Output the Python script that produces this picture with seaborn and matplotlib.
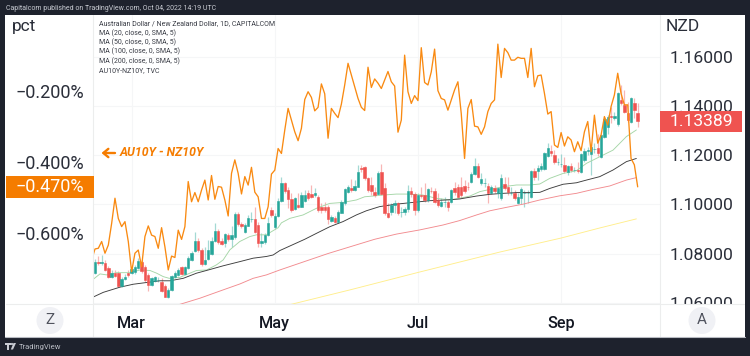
import numpy as np
import pandas as pd
import seaborn as sns
import matplotlib
matplotlib.use("Agg")
import matplotlib.pyplot as plt
from matplotlib.patches import Rectangle, Circle, Polygon
from matplotlib.lines import Line2D
from matplotlib.transforms import Affine2D

# ---------- data ----------
opens = [1.0722,1.0766,1.0763,1.0763,1.0740,1.0703,1.0722,1.0720,1.0668,1.0697,1.0722,1.0720,1.0724,1.0740,1.0767,1.0747,1.0713,1.0672,1.0690,1.0693,1.0686,1.0668,1.0621,1.0652,1.0706,1.0713,1.0744,1.0716,1.0740,1.0774,1.0812,1.0851,1.0815,1.0756,1.0778,1.0798,1.0849,1.0892,1.0853,1.0842,1.0876,1.0858,1.0866,1.0960,1.0919,1.0889,1.0914,1.0939,1.0939,1.0916,1.0842,1.0845,1.0876,
1.0977,1.0906,1.0953,1.1015,1.1086,1.1058,1.1022,1.0980,1.0997,1.0991,1.1015,1.1045,1.1042,1.1038,1.1031,1.0991,1.0991,1.0991,1.0934,1.0943,1.0930,1.0966,1.1004,1.1052,1.1065,1.1058,1.1072,1.1147,1.1151,1.1106,1.1079,1.1052,1.1042,1.1133,1.1065,1.0964,1.0970,1.0997,1.1004,1.0970,1.0970,1.0980,1.1056,1.1042,1.0977,1.1038,1.1038,1.1018,1.1056,1.1056,1.1018,1.0993,1.1011,1.1011,1.1011,1.1065,1.1072,
1.1072,1.1075,1.1072,1.1092,1.1124,1.1156,1.1088,1.1088,1.1076,1.1048,1.1065,1.1045,1.1025,1.1083,1.1069,1.1048,1.1045,1.1007,1.1025,1.1045,1.1045,1.1029,1.1137,1.1137,1.1143,1.1143,1.1198,1.1219,1.1201,1.1171,1.1164,1.1160,1.1133,1.1156,1.1140,1.1140,1.1133,1.1181,1.1219,1.1205,1.1225,1.1228,1.1194,1.1273,1.1316,1.1360,1.1350,1.1327,1.1425,1.1405,1.1373,1.1337,1.1414,1.1373]
closes = [1.0767,1.0763,1.0765,1.0733,1.0706,1.0722,1.0709,1.0668,1.0697,1.0706,1.0713,1.0736,1.0744,1.0770,1.0727,1.0693,1.0672,1.0699,1.0703,1.0693,1.0649,1.0625,1.0652,1.0709,1.0722,1.0733,1.0716,1.0744,1.0781,1.0804,1.0851,1.0815,1.0756,1.0774,1.0815,1.0851,1.0892,1.0845,1.0839,1.0878,1.0858,1.0876,1.0960,1.0919,1.0912,1.0916,1.0943,1.0939,1.0889,1.0842,1.0849,1.0876,1.0926,
1.0957,1.0953,1.1015,1.1086,1.1056,1.1022,1.0977,1.1025,1.0991,1.1038,1.1038,1.1027,1.1031,1.1045,1.0977,1.0977,1.0977,1.0939,1.0950,1.0930,1.0970,1.1011,1.1061,1.1069,1.1058,1.1075,1.1133,1.1143,1.1106,1.1058,1.1056,1.1038,1.1126,1.1042,1.0964,1.0947,1.0997,1.1007,1.0966,1.0970,1.0980,1.1056,1.1042,1.0977,1.1038,1.1035,1.1018,1.1061,1.1054,1.1011,1.0997,1.1011,1.1011,1.0991,1.1058,1.1052,1.1031,
1.1038,1.1056,1.1069,1.1124,1.1156,1.1113,1.1103,1.1088,1.1045,1.1069,1.1054,1.1065,1.1106,1.1065,1.1052,1.1048,1.1027,1.1031,1.1061,1.1045,1.1045,1.1137,1.1110,1.1147,1.1156,1.1208,1.1228,1.1208,1.1174,1.1171,1.1164,1.1136,1.1156,1.1140,1.1140,1.1137,1.1205,1.1219,1.1221,1.1232,1.1225,1.1208,1.1282,1.1346,1.1354,1.1357,1.1360,1.1455,1.1411,1.1377,1.1343,1.1432,1.1384,1.13389]
highs = [1.0777,1.0788,1.0794,1.0774,1.0750,1.0731,1.0731,1.0727,1.0706,1.0717,1.0733,1.0747,1.0754,1.0781,1.0774,1.0754,1.0720,1.0706,1.0709,1.0706,1.0699,1.0676,1.0659,1.0713,1.0727,1.0740,1.0750,1.0750,1.0788,1.0812,1.0889,1.0862,1.0821,1.0828,1.0855,1.0866,1.0923,1.0899,1.0862,1.0885,1.0882,1.0910,1.0971,1.0967,1.0930,1.0926,1.0957,1.0971,1.0991,1.0930,1.0882,1.0882,1.0950,
1.0991,1.0964,1.1025,1.1113,1.1092,1.1072,1.1045,1.1031,1.1045,1.1052,1.1058,1.1058,1.1079,1.1065,1.1038,1.1004,1.1011,1.0997,1.0957,1.0953,1.0977,1.1018,1.1065,1.1079,1.1102,1.1099,1.1160,1.1160,1.1156,1.1113,1.1113,1.1072,1.1137,1.1164,1.1086,1.1004,1.1007,1.1018,1.1011,1.0991,1.0991,1.1079,1.1072,1.1052,1.1045,1.1072,1.1088,1.1065,1.1072,1.1065,1.1045,1.1025,1.1031,1.1018,1.1061,1.1092,1.1083,
1.1113,1.1099,1.1092,1.1133,1.1187,1.1167,1.1126,1.1106,1.1086,1.1079,1.1079,1.1072,1.1124,1.1113,1.1113,1.1072,1.1058,1.1045,1.1072,1.1058,1.1058,1.1140,1.1147,1.1160,1.1167,1.1215,1.1251,1.1242,1.1221,1.1187,1.1205,1.1194,1.1160,1.1167,1.1151,1.1174,1.1211,1.1228,1.1235,1.1242,1.1249,1.1286,1.1286,1.1357,1.1364,1.1398,1.1377,1.1459,1.1486,1.1466,1.1418,1.1439,1.1432,1.1414]
lows = [1.0717,1.0754,1.0754,1.0727,1.0699,1.0699,1.0703,1.0663,1.0663,1.0693,1.0703,1.0716,1.0717,1.0736,1.0720,1.0686,1.0649,1.0668,1.0686,1.0686,1.0645,1.0622,1.0618,1.0649,1.0702,1.0709,1.0712,1.0712,1.0736,1.0770,1.0808,1.0808,1.0751,1.0752,1.0774,1.0794,1.0845,1.0839,1.0835,1.0828,1.0849,1.0828,1.0858,1.0910,1.0903,1.0885,1.0910,1.0930,1.0882,1.0828,1.0828,1.0839,1.0872,
1.0950,1.0901,1.0950,1.1011,1.1045,1.0984,1.0970,1.0977,1.0984,1.0988,1.1011,1.1018,1.1025,1.1031,1.0970,1.0964,1.0970,1.0920,1.0930,1.0925,1.0925,1.0964,1.0997,1.1045,1.1052,1.1054,1.1069,1.1133,1.1099,1.1052,1.1038,1.1031,1.1038,1.1038,1.0957,1.0943,1.0957,1.0966,1.0957,1.0950,1.0957,1.0970,1.1031,1.0957,1.0970,1.1025,1.1011,1.1011,1.1045,1.1004,1.0991,1.0988,1.0991,1.0974,1.1004,1.1038,1.1025,
1.1025,1.1045,1.1058,1.1088,1.1120,1.1106,1.1079,1.1072,1.1007,1.1042,1.1045,1.1025,1.1018,1.1058,1.1038,1.1038,1.1018,1.1001,1.1001,1.0991,1.1004,1.1025,1.1099,1.1099,1.1137,1.1140,1.1194,1.1197,1.1164,1.1160,1.1153,1.1126,1.1120,1.1133,1.1133,1.1126,1.1126,1.1174,1.1201,1.1120,1.1208,1.1197,1.1187,1.1269,1.1286,1.1330,1.1343,1.1319,1.1405,1.1371,1.1337,1.1330,1.1350,1.1316]

spread_pct = [-0.676,-0.645,-0.643,-0.624,-0.657,-0.634,-0.573,-0.502,-0.559,-0.582,-0.568,-0.624,-0.709,-0.657,-0.648,-0.695,-0.610,-0.580,-0.606,-0.610,-0.643,-0.585,-0.639,-0.704,-0.665,-0.669,-0.592,-0.618,-0.582,-0.455,-0.512,-0.486,-0.512,-0.479,-0.451,-0.507,-0.438,-0.505,-0.469,-0.471,-0.507,-0.552,-0.432,-0.394,-0.432,-0.490,-0.441,-0.465,-0.415,-0.485,-0.498,-0.559,-0.559,-0.526,
-0.434,-0.423,-0.362,-0.376,-0.310,-0.249,-0.282,-0.315,-0.340,-0.305,-0.224,-0.202,-0.218,-0.256,-0.246,-0.180,-0.208,-0.333,-0.249,-0.263,-0.275,-0.237,-0.183,-0.122,-0.155,-0.188,-0.221,-0.246,-0.255,-0.133,-0.190,-0.166,-0.178,-0.193,-0.169,-0.145,-0.174,-0.186,-0.316,-0.282,-0.099,-0.202,-0.235,-0.213,-0.227,-0.078,-0.176,-0.183,-0.146,-0.082,-0.199,-0.221,-0.225,-0.254,-0.225,-0.197,-0.174,
-0.263,-0.390,-0.249,-0.224,-0.299,-0.301,-0.322,-0.301,-0.258,-0.235,-0.225,-0.068,-0.162,-0.080,-0.092,-0.113,-0.113,-0.105,-0.108,-0.108,-0.162,-0.080,-0.188,-0.157,-0.155,-0.207,-0.265,-0.258,-0.352,-0.359,-0.317,-0.355,-0.329,-0.338,-0.371,-0.343,-0.368,-0.315,-0.286,-0.371,-0.268,-0.347,-0.324,-0.272,-0.296,-0.244,-0.211,-0.150,-0.207,-0.239,-0.239,-0.390,-0.408,-0.470]

ma20_bar = [-1,1.5,3.5,6.5,10.5,13.5,16.5,18.5,20.5,22.3,25.5,28.5,30.5,33.5,36.5,38.5,40.5,43.5,46.5,48.5,51.5,53,55,56,58.5,62.5,66.5,70.5,74.5,78.5,81,83.5,86.5,90.5,94.5,98.5,102.5,106.5,109.6,112.6,115.6,118.6,122.6,126.6,130.6,133.6,136.6,140.6,144.6,147.6,151.6,155.6,159.6,162.6]
ma20_val = [1.0690,1.0717,1.0713,1.0722,1.0722,1.0733,1.0731,1.0720,1.0706,1.0699,1.0703,1.0720,1.0731,1.0733,1.0754,1.0774,1.0815,1.0849,1.0869,1.0876,1.0876,1.0889,1.0905,1.0925,1.0943,1.0957,1.0984,1.1004,1.1008,1.1018,1.1031,1.1034,1.1038,1.1042,1.1042,1.1038,1.1025,1.1018,1.1025,1.1034,1.1052,1.1061,1.1072,1.1079,1.1079,1.1083,1.1106,1.1126,1.1137,1.1167,1.1194,1.1221,1.1276,1.1303]
ma50_bar = [-1,2.5,7.5,11.5,15.5,19.5,22.5,26.5,30.5,33.5,38.5,43.5,47.5,51.5,53.5,55.5,63,66.5,70.5,74.5,78.5,81.5,85.5,90.5,95.5,100.5,105.5,109.5,114.6,118.6,122.6,126.6,130.6,133.6,136.6,140.6,144.6,147.6,151.6,155.6,159.6,162.6]
ma50_val = [1.0620,1.0642,1.0663,1.0675,1.0682,1.0689,1.0689,1.0699,1.0720,1.0731,1.0750,1.0767,1.0781,1.0788,1.0794,1.0812,1.0858,1.0882,1.0909,1.0930,1.0957,1.0974,1.0991,1.1001,1.1008,1.1015,1.1018,1.1022,1.1034,1.1041,1.1045,1.1048,1.1048,1.1049,1.1065,1.1082,1.1088,1.1099,1.1113,1.1140,1.1174,1.1187]
ma100_bar = [25,31.5,38.5,43.5,47.5,51.5,55.5,70,84,90.5,97.5,104.5,109.5,114.6,118.6,123.6,128.6,133.6,139.6,144.6,149.6,154.6,159.6,162.6]
ma100_val = [1.0591,1.0618,1.0652,1.0676,1.0699,1.0713,1.0733,1.0800,1.0858,1.0879,1.0896,1.0916,1.0934,1.0957,1.0974,1.0988,1.1001,1.1018,1.1035,1.1045,1.1061,1.1075,1.1099,1.1109]
ma200_bar = [58,76.6,97.6,121.6,140,151.6,162.6]
ma200_val = [1.0590,1.0652,1.0725,1.0806,1.0863,1.0904,1.0941]

month_labels = ["Mar", "May", "Jul", "Sep"]
month_bars = [11, 54, 97, 140]
price_ticks = [1.06, 1.08, 1.10, 1.12, 1.14, 1.16]
pct_ticks = [-0.6, -0.4, -0.2]
last_price = 1.13389
last_spread = -0.470

# ---------- style ----------
sns.set_theme(style="white")
plt.rcParams["font.family"] = ["Roboto", "DejaVu Sans"]
DARK = "#1e222d"; TEAL = "#26a69a"; RED = "#ef5350"; ORANGE = "#f57c00"
GRID = "#f5f6f7"; SEP = "#eceded"; INK = "#2a2e39"

fig = plt.figure(figsize=(7.5, 3.56), dpi=100, facecolor=DARK)
T = Affine2D().scale(1/750, -1/356).translate(0, 1) + fig.transFigure

def box(x0, y0, x1, y1, color, z):
    fig.add_artist(Rectangle((x0, y0), x1-x0, y1-y0, transform=T, fc=color, ec="none", zorder=z))
def label(x, y, s, z=8, **kw):
    fig.text(x, y, s, transform=T, zorder=z, va=kw.pop("va", "center"), **kw)

box(5, 14.5, 745, 336.5, "white", -5)

ax = fig.add_axes([93/750, 1-304/356, (660-93)/750, (304-15)/356])
ax.set_facecolor("none")
xlim = (-0.6, 169.7)
ax.set_xlim(*xlim)
ax.set_ylim(1.05945, 1.1771)
axl = ax.twinx()
axl.set_ylim(-0.800, 0.0141)
axl.set_xlim(*xlim)
axl.set_facecolor("none")

ax.yaxis.tick_right()
axl.yaxis.tick_left()
for a in (ax, axl):
    for s in a.spines.values():
        s.set_visible(False)
ax.set_yticks(price_ticks, [f"{v:.5f}" for v in price_ticks])
axl.set_yticks(pct_ticks, [f"\u2212{abs(v):.3f}%" for v in pct_ticks])
ax.set_xticks(month_bars, month_labels)
ax.tick_params(axis="y", length=0, pad=7, labelsize=12.6, labelcolor=INK)
axl.tick_params(axis="y", length=0, pad=6.5, labelsize=13, labelcolor=INK)
ax.tick_params(axis="x", length=0, pad=8.5, labelsize=11.7, labelcolor="#131722")
for t in ax.get_xticklabels():
    t.set_fontweight("medium")
ax.grid(True, color=GRID, lw=0.8)
ax.set_axisbelow(True)

# candles
bars = np.arange(len(closes))
o, c, h, l = map(np.array, (opens, closes, highs, lows))
up = c >= o
colors = np.where(up, TEAL, RED)
ax.vlines(bars[up], l[up], h[up], color=TEAL, alpha=0.42, lw=0.9, zorder=2)
ax.vlines(bars[~up], l[~up], h[~up], color=RED, alpha=0.42, lw=0.9, zorder=2)
ax.bar(bars, np.abs(c-o), bottom=np.minimum(o, c), width=0.72, color=colors, lw=0.4, edgecolor=colors, zorder=4)

# moving averages
line_specs = [(ma20_bar, ma20_val, "#a5d6a7", "MA 20"), (ma50_bar, ma50_val, "#3d3d3d", "MA 50"),
              (ma100_bar, ma100_val, "#f28b8f", "MA 100"), (ma200_bar, ma200_val, "#ffee8c", "MA 200")]
for bx, vals, col, name in line_specs:
    df = pd.DataFrame({"bar": bx, "value": vals})
    sns.lineplot(data=df, x="bar", y="value", ax=ax, color=col, lw=0.65, estimator=None, sort=False, zorder=3, legend=False)

# yield spread
spread = pd.DataFrame({"bar": np.arange(-1, len(spread_pct)-1), "value": spread_pct})
sns.lineplot(data=spread, x="bar", y="value", ax=axl, color="#f98a12", lw=0.95, estimator=None, sort=False, legend=False)

ax.set_xlabel(""); ax.set_ylabel(""); axl.set_xlabel(""); axl.set_ylabel("")
ax.set_xlim(*xlim); axl.set_xlim(*xlim)
ax.set_ylim(1.05945, 1.1771); axl.set_ylim(-0.800, 0.0141)

# panels that hide the clipped axis label below the chart
box(661, 304.5, 744.5, 336, "white", 3)
for (x0, y0, x1, y1) in [(93, 15, 93, 336), (660, 15, 660, 336), (6, 304, 744, 304)]:
    fig.add_artist(Line2D([x0, x1], [y0, y1], transform=T, color=SEP, lw=0.8, zorder=4))
fig.add_artist(Line2D([5, 745], [336.6, 336.6], transform=T, color="#b8bbc2", lw=0.8, zorder=4))

# value tags
box(660, 110.5, 742, 132, RED, 5)
label(701, 121.5, f"{last_price:.5f}", color="white", fontsize=12.6, ha="center")
box(6, 176, 94, 198, ORANGE, 5)
label(50, 187.5, f"\u2212{abs(last_spread):.3f}%", color="white", fontsize=13, ha="center")

# axis units
label(12, 27, "pct", color=INK, fontsize=12.5, ha="left")
label(666, 26.5, "NZD", color=INK, fontsize=12.5, ha="left")

# scale buttons
for cx, s in [(50, "Z"), (702, "A")]:
    fig.add_artist(Circle((cx, 320.5), 13.5, transform=T, fc="#f0f1f5", ec="none", zorder=5))
    label(cx, 320.5, s, color="#50535e", fontsize=11, ha="center")

# study legend
legend_lines = ["Australian Dollar / New Zealand Dollar, 1D, CAPITALCOM", "MA (20, close, 0, SMA, 5)",
                "MA (50, close, 0, SMA, 5)", "MA (100, close, 0, SMA, 5)", "MA (200, close, 0, SMA, 5)", "AU10Y-NZ10Y, TVC"]
for s, y in zip(legend_lines, [23.7, 33, 42.5, 51.8, 61.2, 70.6]):
    label(99, y, s, color="#3a3d46", fontsize=5.05, ha="left")

# annotation
axl.annotate("", xy=(101.5, 153), xytext=(115, 153), xycoords=T, textcoords=T,
             arrowprops=dict(arrowstyle="->,head_length=0.3,head_width=0.25", color=ORANGE, lw=1.7, shrinkA=0, shrinkB=0))
label(119.5, 152.5, "AU10Y - NZ10Y", color=ORANGE, fontsize=8.8, ha="left", fontweight="bold", fontstyle="italic")

# header and footer
label(6, 8.7, "Capitalcom published on TradingView.com, Oct 04, 2022 14:19 UTC", color="#c9ccd3", fontsize=5.05, ha="left")
label(19, 346.5, "TradingView", color="#b9bcc4", fontsize=5.5, ha="left")
box(5, 343, 10.5, 345, "#c9ccd3", 6)
box(7.3, 343, 9.3, 349.5, "#c9ccd3", 6)
fig.add_artist(Circle((12, 344), 1.1, transform=T, fc="#c9ccd3", ec="none", zorder=6))
fig.add_artist(Polygon([(13.5, 343), (16, 343), (13, 349.5), (10.8, 349.5)], transform=T, fc="#c9ccd3", ec="none", zorder=6))

fig.savefig("out.png", dpi=100, facecolor=DARK)
